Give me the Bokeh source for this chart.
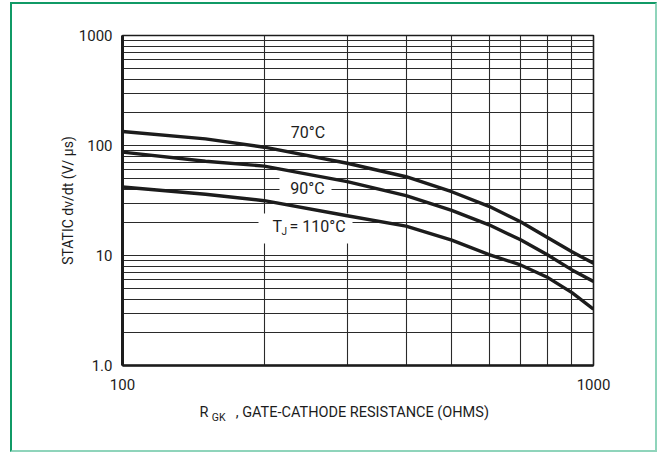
from bokeh.plotting import figure
from bokeh.models import FixedTicker, Label, Range1d, LogAxis
from bokeh.embed import file_html
from bokeh.resources import INLINE

# ---- data ----
r_gk = [100, 150, 200, 300, 400, 500, 600, 700, 800, 900, 1000]
dvdt_70 = [134, 115, 96.5, 69, 52, 38, 28, 20.3, 14.5, 10.8, 8.5]
dvdt_90 = [87, 72, 65, 47, 35, 25.7, 19, 13.9, 10.1, 7.4, 5.8]
dvdt_110 = [42, 36, 31.5, 23, 18.5, 13.8, 10.2, 8.2, 6.3, 4.6, 3.25]

x_major = [100, 1000]
x_minor = [200, 300, 400, 500, 600, 700, 800, 900]
y_major = [1, 10, 100, 1000]
y_major_labels = ["1.0", "10", "100", "1000"]
y_minor = [m * d for d in (1, 10, 100) for m in range(2, 10)]

FONT = "Roboto"
INK = "#1c1c1c"
GRID = "#2a2a2a"

FW, FH = 471, 330
ML, MT = 110, 31
OX, OY = 12, 4  # page position of the canvas


def dx(px):
    return 100 * 10 ** ((px - (OX + ML)) / FW)


def dy(py):
    return 10 ** ((OY + MT + FH - py) / (FH / 3))


p = figure(x_axis_type="log", y_axis_type="log",
           x_range=Range1d(100, 1000), y_range=Range1d(1, 1000),
           frame_width=FW, frame_height=FH,
           min_border_left=ML, min_border_right=62, min_border_top=MT, min_border_bottom=85,
           output_backend="svg", toolbar_location=None,
           background_fill_color="white", border_fill_color="white",
           outline_line_color=INK, outline_line_width=1.6,
           styles={"margin-top": "2px", "margin-left": "10px",
                   "border-style": "solid", "border-width": "2px",
                   "border-color": "#109a66 #8fd4bb #8fd4bb #109a66"})

p.xaxis.ticker = FixedTicker(ticks=x_major, minor_ticks=x_minor)
p.yaxis.ticker = FixedTicker(ticks=y_major, minor_ticks=y_minor)
p.yaxis.major_label_overrides = {v: s for v, s in zip(y_major, y_major_labels)}
p.xaxis.major_label_overrides = {v: str(v) for v in x_major}

for ax in (p.xaxis, p.yaxis):
    ax.major_tick_line_color = None
    ax.minor_tick_line_color = None
    ax.major_label_text_font = FONT
    ax.major_label_text_font_size = "15px"
    ax.major_label_text_color = INK
    ax.axis_line_color = INK
    ax.axis_label_text_font = FONT
    ax.axis_label_text_font_style = "normal"
    ax.axis_label_text_font_size = "14px"
    ax.axis_label_text_color = INK
p.yaxis.axis_line_width = 3
p.xaxis.axis_line_width = 2.5
p.yaxis.major_label_standoff = 4
p.xaxis.major_label_standoff = 7
p.yaxis.axis_label = "STATIC dv/dt (V/ μs)"
p.yaxis.axis_label_standoff = 0

for g in (p.xgrid, p.ygrid):
    g.grid_line_color = GRID
    g.grid_line_width = 1.1
    g.minor_grid_line_color = GRID
    g.minor_grid_line_width = 1.1

# x-axis title rows: "R" + ", GATE-CATHODE ..." then the "GK" subscript
pos_r, pos_gk, pos_rest = round(dx(204)), round(dx(218)), round(dx(362))
title_ax = LogAxis(ticker=FixedTicker(ticks=[pos_r, pos_rest], minor_ticks=[]),
                   major_label_overrides={pos_r: "R",
                                          pos_rest: ", GATE-CATHODE RESISTANCE (OHMS)"})
sub_ax = LogAxis(ticker=FixedTicker(ticks=[pos_gk], minor_ticks=[]),
                 major_label_overrides={pos_gk: "GK"})
for ax, size, stand in ((title_ax, "14.5px", 5), (sub_ax, "10.5px", -19)):
    ax.axis_line_color = None
    ax.major_tick_line_color = None
    ax.minor_tick_line_color = None
    ax.major_label_text_font = FONT
    ax.major_label_text_font_size = size
    ax.major_label_text_color = INK
    ax.major_label_standoff = stand
    p.add_layout(ax, "below")

# white boxes behind curve labels
p.rect(x=[dx(305.5)], y=[dy(132)], width=52, height=25, width_units="screen",
       height_units="screen", fill_color="white", line_color=None)
p.rect(x=[dx(305)], y=[dy(187)], width=52, height=24, width_units="screen",
       height_units="screen", fill_color="white", line_color=None)
p.rect(x=[dx(305)], y=[dy(228)], width=94, height=30, width_units="screen",
       height_units="screen", fill_color="white", line_color=None)

for ys in (dvdt_70, dvdt_90, dvdt_110):
    p.line(r_gk, ys, line_color=INK, line_width=3.4, line_join="round")


def lab(px, py, txt, size, align="center"):
    p.add_layout(Label(x=dx(px), y=dy(py), text=txt, text_font=FONT,
                       text_font_size=size, text_color=INK, text_align=align,
                       text_baseline="middle"))


lab(307.5, 132, "70°C", "16px")
lab(307, 188, "90°C", "16px")
lab(272, 226, "T", "16px", "left")
lab(281, 231, "J", "10px", "left")
lab(289, 226, "= 110°C", "16px", "left")

open("out.html", "w").write(file_html(p, INLINE))
